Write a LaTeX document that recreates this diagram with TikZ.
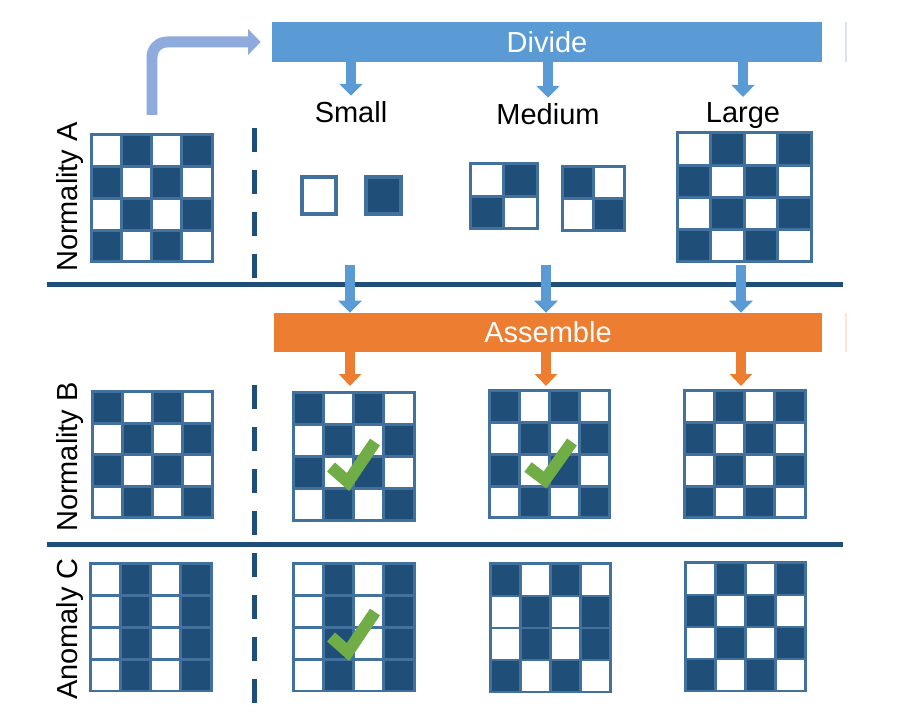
\documentclass[tikz,border=0pt]{standalone}
\usepackage{fontspec}
\setmainfont{Liberation Sans}
\usetikzlibrary{arrows.meta,calc}

\definecolor{divblue}{HTML}{5B9BD5}
\definecolor{bentblue}{HTML}{8FAADC}
\definecolor{asmorange}{HTML}{ED7D31}
\definecolor{boarddark}{HTML}{1F4E79}
\definecolor{boardline}{HTML}{41719C}
\definecolor{okgreen}{HTML}{70AD47}
\colorlet{cell0}{white}
\colorlet{cell1}{boarddark}

\tikzset{
  cellline/.style={draw=boardline, line width=0.06cm},
  bar/.style={rectangle, inner sep=0, text=white},
  divarrow/.style={draw=divblue, line width=0.2cm, -{Triangle[width=0.46cm,length=0.24cm]}},
  asmarrow/.style={draw=asmorange, line width=0.2cm, -{Triangle[width=0.44cm,length=0.24cm]}},
  bentarrow/.style={draw=bentblue, line width=0.22cm, rounded corners=0.3cm, -{Triangle[width=0.5cm,length=0.25cm]}},
  sepline/.style={draw=boarddark, line width=0.1cm},
  cutline/.style={draw=boarddark, line width=0.1cm, dash pattern=on 0.48cm off 0.36cm},
  checkmark/.style={draw=okgreen, line width=0.24cm},
  rowlabel/.style={rotate=90},
  sizelabel/.style={anchor=base}
}

% board: name, left, top, cell width, cell height, rows of 0/1
\newcommand\drawboard[6]{%
  \coordinate (#1) at (#2,#3);
  \foreach \cells [count=\rownum] in {#6} {
    \foreach \c [count=\colnum] in \cells {
      \draw[cellline, fill=cell\c] ({#2+(\colnum-1)*#4},{#3+(\rownum-1)*#5}) rectangle ++(#4,#5);
    }
  }
}

\begin{document}
\begin{tikzpicture}[x=0.02cm, y=-0.02cm, font=\fontsize{16.5}{20}\selectfont]
  \useasboundingbox (0,0) rectangle (914,716);

  % Bars
  \node[bar, fill=divblue, minimum width=11cm, minimum height=0.8cm] (divide) at (547,42) {Divide};
  \node[bar, fill=asmorange, minimum width=10.96cm, minimum height=0.78cm] (assemble) at (548,332.5) {Assemble};
  \draw[boardline!20, line width=0.03cm] (846,22) -- (846,62);
  \draw[asmorange!20, line width=0.03cm] (846,313) -- (846,352);

  % Size labels
  \node[sizelabel] (lsmall) at (351,123) {Small};
  \node[sizelabel] (lmedium) at (548,125) {Medium};
  \node[sizelabel] (llarge) at (743,123) {Large};
  \foreach \name in {lsmall,lmedium,llarge} {
    \draw[divarrow] (divide.south -| \name) -- (\name.north);
  }

  % Row labels
  \node[rowlabel] (nA) at (70,197) {Normality A};
  \node[rowlabel] (nB) at (70,457) {Normality B};
  \node[rowlabel] (aC) at (70,629) {Anomaly C};

  % Separators and cut lines
  \draw[sepline] (47,285) -- (843,285);
  \draw[sepline] (47,545) -- (843,545);
  \draw[cutline] (254,128) -- (254,278);
  \draw[cutline] (254,385) -- (254,535);
  \draw[cutline] (254,553) -- (254,703);

  % Row A
  \drawboard{A}{91}{135}{30.25}{31.75}{{0,1,0,1},{1,0,1,0},{0,1,0,1},{1,0,1,0}}
  \draw[cellline, line width=0.08cm, fill=white] (302,177) rectangle (336,214);
  \draw[cellline, line width=0.08cm, fill=boarddark] (366,177) rectangle (401,214);
  \drawboard{Am1}{470}{164}{33.5}{32.5}{{0,1},{1,0}}
  \drawboard{Am2}{562}{167}{31}{32}{{1,0},{0,1}}
  \drawboard{Al}{677}{133}{33.5}{32.25}{{0,1,0,1},{1,0,1,0},{0,1,0,1},{1,0,1,0}}

  % Row B
  \drawboard{B}{92}{392}{30}{31.5}{{1,0,1,0},{0,1,0,1},{1,0,1,0},{0,1,0,1}}
  \drawboard{Bs}{293}{393}{30.25}{32}{{1,0,1,0},{0,1,0,1},{1,0,1,0},{0,1,0,1}}
  \drawboard{Bm}{489}{391}{30}{31.75}{{1,0,1,0},{0,1,0,1},{1,0,1,0},{0,1,0,1}}
  \drawboard{Bl}{684}{391}{30.25}{31.75}{{0,1,0,1},{1,0,1,0},{0,1,0,1},{1,0,1,0}}

  % Row C
  \drawboard{C}{90}{564}{30.25}{31.75}{{0,1,0,1},{0,1,0,1},{0,1,0,1},{0,1,0,1}}
  \drawboard{Cs}{293}{564}{30.25}{31.75}{{0,1,0,1},{0,1,0,1},{0,1,0,1},{0,1,0,1}}
  \drawboard{Cm}{490}{564}{30}{32}{{1,0,1,0},{0,1,0,1},{0,1,0,1},{1,0,1,0}}
  \drawboard{Cl}{685}{563}{30}{32}{{0,1,0,1},{1,0,1,0},{0,1,0,1},{1,0,1,0}}

  % Check marks
  \draw[checkmark] (331,467) -- (348,482) -- (375,442);
  \draw[checkmark] (528,467) -- (545,480) -- (572,442);
  \draw[checkmark] (331,637) -- (348,652) -- (375,612);

  % Arrows through the pipeline
  \coordinate (Aout) at (152,115);
  \draw[bentarrow, shorten >=0.22cm] (Aout) |- (divide.west);
  \foreach \col/\x in {S/350, M/546, L/741} {
    \coordinate (out\col) at (\x,265);
    \coordinate (in\col) at (\x,386);
    \draw[divarrow] (out\col) -- (assemble.north -| out\col);
    \draw[asmarrow] (assemble.south -| in\col) -- (in\col);
  }
\end{tikzpicture}
\end{document}
